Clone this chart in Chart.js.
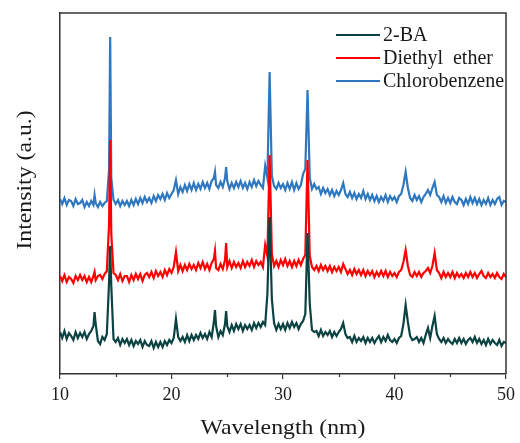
<!DOCTYPE html>
<html>
<head>
<meta charset="utf-8">
<script src="https://cdn.jsdelivr.net/npm/chart.js@4.4.1/dist/chart.umd.min.js"></script>
<style>
  body { margin: 0; background: #fff; }
  canvas { display: block; }
</style>
</head>
<body>
<canvas id="xrdChart" width="520" height="443"></canvas>
<script>
// wavelength (nm)
const wavelength = [
  10.0, 10.2, 10.4, 10.6, 10.8,
  11.0, 11.2, 11.4, 11.6, 11.8,
  12.0, 12.2, 12.4, 12.6, 12.8,
  13.0, 13.1, 13.2, 13.4, 13.6, 13.8,
  14.0, 14.2, 14.4, 14.5, 14.6, 14.8,
  15.0, 15.2, 15.4, 15.6, 15.8,
  16.0, 16.2, 16.4, 16.6, 16.8,
  17.0, 17.2, 17.4, 17.6, 17.8,
  18.0, 18.2, 18.4, 18.6, 18.8,
  19.0, 19.2, 19.4, 19.6, 19.8,
  20.0, 20.2, 20.4, 20.6, 20.8,
  21.0, 21.2, 21.4, 21.6, 21.8,
  22.0, 22.2, 22.4, 22.6, 22.8,
  23.0, 23.2, 23.4, 23.6, 23.8, 23.9,
  24.0, 24.2, 24.4, 24.6, 24.8, 24.9,
  25.0, 25.2, 25.4, 25.6, 25.8,
  26.0, 26.2, 26.4, 26.6, 26.8,
  27.0, 27.2, 27.4, 27.6, 27.8,
  28.0, 28.2, 28.4, 28.6, 28.8,
  29.0, 29.2, 29.4, 29.6, 29.8,
  30.0, 30.2, 30.4, 30.6, 30.8,
  31.0, 31.2, 31.4, 31.6, 31.8,
  32.0, 32.2, 32.4, 32.6, 32.8,
  33.0, 33.2, 33.4, 33.6, 33.8,
  34.0, 34.2, 34.4, 34.6, 34.8,
  35.0, 35.2, 35.4, 35.6, 35.8,
  36.0, 36.2, 36.4, 36.6, 36.8,
  37.0, 37.2, 37.4, 37.6, 37.8,
  38.0, 38.2, 38.4, 38.6, 38.8,
  39.0, 39.2, 39.4, 39.6, 39.8,
  40.0, 40.2, 40.4, 40.6, 40.8,
  41.0, 41.2, 41.4, 41.6, 41.8,
  42.0, 42.2, 42.4, 42.6, 42.8,
  43.0, 43.2, 43.4, 43.6, 43.8,
  44.0, 44.2, 44.4, 44.6, 44.8,
  45.0, 45.2, 45.4, 45.6, 45.8,
  46.0, 46.2, 46.4, 46.6, 46.8,
  47.0, 47.2, 47.4, 47.6, 47.8,
  48.0, 48.2, 48.4, 48.6, 48.8,
  49.0, 49.2, 49.4, 49.6, 49.8,
  50.0
];

// intensity (a.u.), curves already stacked with their offsets
const ba2 = [
  42, 36, 43, 35, 41,
  38, 34, 42, 36, 41,
  37, 42, 35, 40, 43,
  48, 62, 50, 33, 30, 37,
  34, 40, 92, 128, 88, 35,
  32, 36, 29, 35, 31,
  35, 29, 34, 28, 33,
  30, 34, 27, 33, 29,
  28, 33, 26, 32, 27,
  32, 27, 33, 29, 34,
  31, 36, 55, 37, 33,
  37, 32, 39, 33, 39,
  34, 39, 35, 41, 36,
  40, 35, 42, 37, 52, 64,
  48, 37, 43, 39, 50, 63,
  48, 42, 49, 43, 50,
  45, 50, 43, 49, 45,
  49, 44, 51, 46, 51,
  47, 52, 49, 80, 157,
  75, 51, 44, 50, 45,
  50, 44, 51, 46, 52,
  47, 51, 45, 50, 53,
  60, 141, 70, 44, 42,
  43, 38, 44, 38, 42,
  39, 43, 37, 42, 38,
  42, 45, 51, 40, 36,
  37, 32, 38, 32, 36,
  33, 37, 31, 36, 32,
  36, 31, 35, 38, 32,
  37, 33, 39, 34, 32,
  35, 31, 36, 38, 50,
  69, 52, 38, 34, 35,
  37, 32, 36, 31, 39,
  46, 36, 48, 58, 40,
  35, 32, 36, 31, 35,
  32, 30, 35, 31, 36,
  31, 35, 30, 34, 36,
  32, 37, 31, 35, 30,
  34, 29, 35, 30, 34,
  31, 29, 34, 28, 32,
  31
];

const diethylEther = [
  98, 93, 99, 92, 97,
  95, 91, 98, 94, 99,
  94, 98, 92, 97, 92,
  98, 102, 94, 98, 99, 95,
  100, 103, 150, 234, 140, 101,
  99, 94, 100, 93, 98,
  98, 92, 99, 94, 100,
  95, 100, 93, 99, 101,
  97, 102, 96, 103, 98,
  102, 97, 104, 99, 105,
  101, 107, 122, 103, 109,
  103, 109, 104, 110, 105,
  109, 104, 111, 106, 112,
  105, 110, 104, 111, 115, 123,
  106, 104, 110, 105, 114, 131,
  107, 113, 106, 112, 107,
  111, 106, 113, 107, 112,
  108, 114, 107, 113, 109,
  112, 107, 129, 118, 219,
  120, 108, 113, 107, 114,
  109, 115, 108, 113, 107,
  113, 108, 114, 109, 115,
  119, 214, 118, 107, 104,
  108, 103, 109, 104, 108,
  103, 108, 102, 107, 103,
  107, 102, 110, 105, 100,
  104, 99, 105, 100, 104,
  99, 104, 98, 103, 99,
  103, 97, 102, 98, 103,
  98, 103, 97, 102, 98,
  101, 97, 102, 104, 112,
  124, 108, 99, 97, 102,
  98, 102, 97, 101, 103,
  106, 101, 108, 121, 104,
  101, 96, 102, 97, 101,
  97, 102, 96, 101, 97,
  100, 96, 101, 97, 102,
  97, 101, 96, 100, 103,
  98, 96, 101, 97, 100,
  96, 101, 97, 95, 100,
  97
];

const chlorobenzene = [
  175, 170, 176, 169, 174,
  173, 168, 175, 170, 171,
  174, 167, 172, 168, 173,
  169, 179, 171, 167, 172, 168,
  171, 173, 205, 337, 196, 174,
  170, 174, 168, 173, 169,
  173, 168, 174, 169, 175,
  170, 176, 171, 177, 172,
  176, 171, 178, 173, 179,
  175, 180, 174, 181, 176,
  180, 184, 194, 180, 187,
  182, 189, 183, 190, 184,
  191, 184, 190, 185, 192,
  186, 191, 185, 193, 196, 202,
  189, 186, 192, 187, 196, 207,
  193, 185, 191, 186, 192,
  187, 193, 186, 191, 185,
  192, 187, 194, 188, 193,
  189, 186, 208, 196, 302,
  198, 188, 185, 191, 186,
  190, 184, 191, 185, 192,
  184, 191, 185, 189, 200,
  205, 284, 196, 185, 190,
  185, 187, 180, 186, 181,
  185, 179, 184, 178, 183,
  179, 184, 191, 180, 177,
  182, 176, 181, 175, 180,
  176, 183, 175, 180, 174,
  179, 173, 178, 172, 177,
  173, 179, 172, 178, 174,
  177, 172, 178, 180, 189,
  202, 186, 176, 173, 179,
  174, 178, 172, 177, 180,
  184, 179, 186, 192, 179,
  177, 172, 178, 171, 176,
  171, 177, 172, 170, 176,
  174, 169, 175, 170, 177,
  171, 176, 170, 175, 169,
  174, 170, 176, 169, 174,
  170, 175, 177, 169, 173,
  172
];

const seriesNames = ['2-BA', 'Diethyl  ether', 'Chlorobenzene'];
const seriesColors = ['#0b4242', '#ff0000', '#2f78c0'];
const majorTicks = [10, 20, 30, 40, 50];
const minorTicks = [15, 25, 35, 45];

const serif = "'Liberation Serif', 'Times New Roman', serif";
const axisColor = '#333';
const textColor = '#1a1a1a';

const toPoints = (vals) => vals.map((v, i) => ({ x: wavelength[i], y: v }));

// frame, minor ticks, legend and axis titles
const decorPlugin = {
    id: 'decor',
    afterDraw(chart) {
        const { ctx, chartArea: a, scales } = chart;
        ctx.save();

        // top + right frame lines
        ctx.strokeStyle = axisColor;
        ctx.lineWidth = 1.5;
        ctx.beginPath();
        ctx.moveTo(a.left, a.top);
        ctx.lineTo(a.right, a.top);
        ctx.lineTo(a.right, a.bottom);
        ctx.stroke();

        // minor ticks on x
        ctx.lineWidth = 1.2;
        minorTicks.forEach(v => {
            const px = Math.round(scales.x.getPixelForValue(v)) + 0.5;
            ctx.beginPath();
            ctx.moveTo(px, a.bottom);
            ctx.lineTo(px, a.bottom + 3);
            ctx.stroke();
        });

        // legend
        ctx.font = '20px ' + serif;
        ctx.textBaseline = 'middle';
        ctx.textAlign = 'left';
        chart.data.datasets.forEach((ds, i) => {
            const y = 35 + i * 23;
            ctx.strokeStyle = ds.borderColor;
            ctx.lineWidth = 2;
            ctx.beginPath();
            ctx.moveTo(336, y);
            ctx.lineTo(380, y);
            ctx.stroke();
            ctx.fillStyle = textColor;
            ctx.fillText(ds.label, 383, y + 1);
        });

        // axis titles
        ctx.fillStyle = textColor;
        ctx.font = '22px ' + serif;
        ctx.textAlign = 'center';
        ctx.textBaseline = 'middle';
        ctx.save();
        ctx.translate(283, 428);
        ctx.scale(1.08, 1);
        ctx.fillText('Wavelength (nm)', 0, 0);
        ctx.restore();

        ctx.save();
        ctx.translate(25, 180);
        ctx.rotate(-Math.PI / 2);
        ctx.scale(1.08, 1);
        ctx.fillText('Intensity (a.u.)', 0, 0);
        ctx.restore();

        ctx.restore();
    }
};

const initChart = () => {
    const ctx = document.getElementById('xrdChart');

    const datasets = [ba2, diethylEther, chlorobenzene].map((vals, i) => ({
        label: seriesNames[i],
        data: toPoints(vals),
        borderColor: seriesColors[i],
        borderWidth: 2.2,
        pointRadius: 0,
        tension: 0,
        fill: false
    }));

    new Chart(ctx, {
        type: 'line',
        data: { datasets },
        options: {
            responsive: false,
            animation: false,
            devicePixelRatio: 1,
            layout: { padding: { top: 13, right: 14, left: 0, bottom: 0 } },
            plugins: {
                legend: { display: false },
                tooltip: { enabled: false }
            },
            scales: {
                x: {
                    type: 'linear',
                    min: 10,
                    max: 50,
                    afterBuildTicks: (scale) => {
                        scale.ticks = majorTicks.map(v => ({ value: v }));
                    },
                    afterFit: (scale) => { scale.height = 69; },
                    ticks: {
                        color: textColor,
                        padding: 5,
                        maxRotation: 0,
                        font: { family: serif, size: 18 }
                    },
                    grid: {
                        drawOnChartArea: false,
                        drawTicks: true,
                        tickLength: 5,
                        color: axisColor,
                        lineWidth: 1.2
                    },
                    border: { display: true, color: axisColor, width: 1.5 }
                },
                y: {
                    min: 0,
                    max: 361,
                    afterFit: (scale) => { scale.width = 60; },
                    ticks: { display: false },
                    grid: { display: false },
                    border: { display: true, color: axisColor, width: 1.5 }
                }
            }
        },
        plugins: [decorPlugin]
    });
};

initChart();
</script>
</body>
</html>
